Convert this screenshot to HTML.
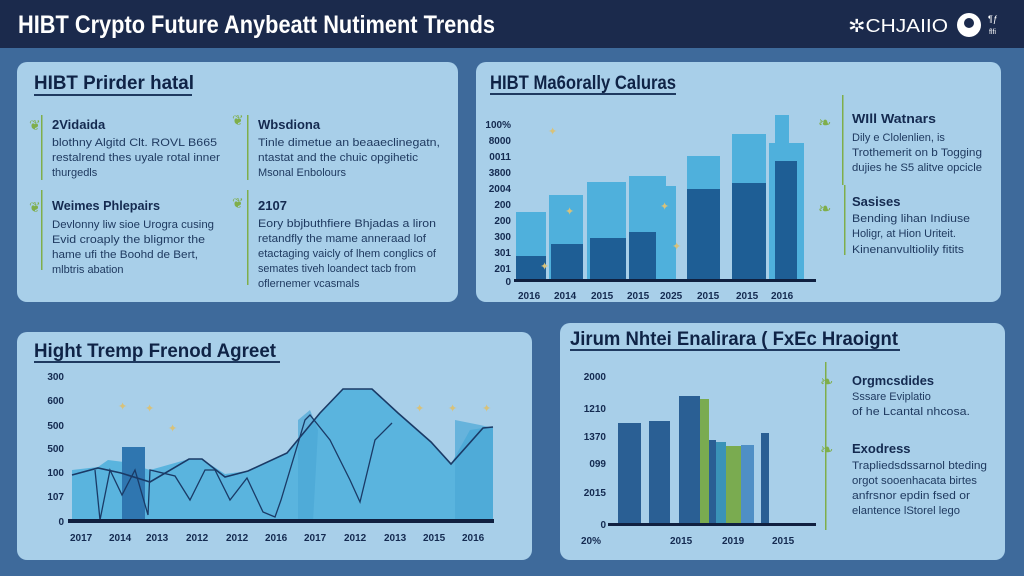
<!DOCTYPE html>
<html><head><meta charset="utf-8"><style>
html,body{margin:0;padding:0;width:1024px;height:576px;overflow:hidden;background:#3e6a9b}
svg{display:block}
text{font-family:"Liberation Sans",sans-serif}
.t{font-weight:bold;fill:#0f2346;font-size:19px}
.h{font-weight:bold;fill:#142a50;font-size:13px}
.b{fill:#1f3a60;font-size:11px}
.ax{fill:#142a50;font-size:10px;font-weight:bold}
</style></head><body>
<svg width="1024" height="576" viewBox="0 0 1024 576">
<rect width="1024" height="576" fill="#3e6a9b"/>
<rect width="1024" height="48" fill="#1b2a4c"/>
<text x="18" y="33" font-size="25" font-weight="bold" fill="#fff" textLength="477" lengthAdjust="spacingAndGlyphs">HIBT Crypto Future Anybeatt Nutiment Trends</text>
<text x="848" y="32" font-size="18" fill="#fff" textLength="100" lengthAdjust="spacingAndGlyphs">✲CHJAIIO</text>
<circle cx="969" cy="25" r="12" fill="#fff"/><circle cx="969" cy="23" r="5" fill="#1b2a4c"/>
<text x="988" y="22" font-size="9" fill="#fff">¶ƒ</text><text x="989" y="34" font-size="7" fill="#fff">ﬂﬁ</text>

<!-- panels -->
<rect x="17" y="62" width="441" height="240" rx="10" fill="#a8cfe9"/>
<rect x="476" y="62" width="525" height="240" rx="10" fill="#a8cfe9"/>
<rect x="17" y="332" width="515" height="228" rx="10" fill="#a8cfe9"/>
<rect x="560" y="323" width="445" height="237" rx="10" fill="#a8cfe9"/>

<!-- panel 1 -->
<text x="34" y="89" class="t" textLength="160" lengthAdjust="spacingAndGlyphs">HIBT Prirder hatal</text>
<rect x="34" y="94" width="158" height="2" fill="#1f3a60"/>
<rect x="41" y="115" width="1.5" height="65" fill="#7fae4a"/><rect x="41" y="190" width="1.5" height="80" fill="#7fae4a"/>
<rect x="247" y="115" width="1.5" height="65" fill="#7fae4a"/><rect x="247" y="190" width="1.5" height="95" fill="#7fae4a"/>
<text x="29" y="130" fill="#7fae4a" font-size="14">❦</text><text x="29" y="212" fill="#7fae4a" font-size="14">❦</text>
<text x="232" y="125" fill="#7fae4a" font-size="14">❦</text><text x="232" y="208" fill="#7fae4a" font-size="14">❦</text>
<text x="52" y="129" class="h">2Vidaida</text>
<text x="52" y="146" class="b" textLength="165" lengthAdjust="spacingAndGlyphs">blothny Algitd Clt. ROVL B665</text>
<text x="52" y="161" class="b" textLength="168" lengthAdjust="spacingAndGlyphs">restalrend thes uyale rotal inner</text>
<text x="52" y="176" class="b">thurgedls</text>
<text x="258" y="129" class="h">Wbsdiona</text>
<text x="258" y="146" class="b" textLength="182" lengthAdjust="spacingAndGlyphs">Tinle dimetue an beaaeclinegatn,</text>
<text x="258" y="161" class="b" textLength="160" lengthAdjust="spacingAndGlyphs">ntastat and the chuic opgihetic</text>
<text x="258" y="176" class="b">Msonal Enbolours</text>
<text x="52" y="210" class="h" textLength="108" lengthAdjust="spacingAndGlyphs">Weimes Phlepairs</text>
<text x="52" y="228" class="b" textLength="162" lengthAdjust="spacingAndGlyphs">Devlonny liw sioe Urogra cusing</text>
<text x="52" y="243" class="b" textLength="153" lengthAdjust="spacingAndGlyphs">Evid croaply the bligmor the</text>
<text x="52" y="258" class="b" textLength="146" lengthAdjust="spacingAndGlyphs">hame ufi the Boohd de Bert,</text>
<text x="52" y="273" class="b">mlbtris abation</text>
<text x="258" y="210" class="h">2107</text>
<text x="258" y="227" class="b" textLength="178" lengthAdjust="spacingAndGlyphs">Eory bbjbuthfiere Bhjadas a liron</text>
<text x="258" y="242" class="b" textLength="168" lengthAdjust="spacingAndGlyphs">retandfly the mame anneraad lof</text>
<text x="258" y="257" class="b" textLength="178" lengthAdjust="spacingAndGlyphs">etactaging vaicly of lhem conglics of</text>
<text x="258" y="272" class="b" textLength="158" lengthAdjust="spacingAndGlyphs">semates tiveh loandect tacb from</text>
<text x="258" y="287" class="b">oflernemer vcasmals</text>

<!-- panel 2 -->
<text x="490" y="89" class="t" textLength="186" lengthAdjust="spacingAndGlyphs">HIBT Ma6orally Caluras</text>
<rect x="490" y="93" width="186" height="2" fill="#1f3a60"/>
<g class="ax" text-anchor="end">
<text x="511" y="128">100%</text><text x="511" y="144">8000</text><text x="511" y="160">0011</text><text x="511" y="176">3800</text><text x="511" y="192">2004</text><text x="511" y="208">200</text><text x="511" y="224">200</text><text x="511" y="240">300</text><text x="511" y="256">301</text><text x="511" y="272">201</text><text x="511" y="285">0</text></g>
<g fill="#4fb0dc">
<rect x="516" y="212" width="30" height="68"/><rect x="549" y="195" width="34" height="85"/><rect x="587" y="182" width="39" height="98"/><rect x="629" y="176" width="37" height="104"/><rect x="666" y="186" width="10" height="94"/><rect x="687" y="156" width="33" height="124"/><rect x="732" y="134" width="34" height="146"/><rect x="769" y="143" width="35" height="137"/><rect x="775" y="115" width="14" height="30"/>
</g>
<g fill="#1e5e95">
<rect x="516" y="256" width="30" height="24"/><rect x="551" y="244" width="32" height="36"/><rect x="590" y="238" width="36" height="42"/><rect x="629" y="232" width="27" height="48"/><rect x="687" y="189" width="33" height="91"/><rect x="732" y="183" width="34" height="97"/><rect x="775" y="161" width="22" height="119"/>
</g>
<rect x="514" y="279" width="302" height="3" fill="#102040"/>
<g fill="#d8c27a" font-size="11"><text x="548" y="135">✦</text><text x="565" y="215">✦</text><text x="660" y="210">✦</text><text x="672" y="250">✦</text><text x="540" y="270">✦</text></g>
<g class="ax" font-size="11"><text x="518" y="299">2016</text><text x="554" y="299">2014</text><text x="591" y="299">2015</text><text x="627" y="299">2015</text><text x="660" y="299">2025</text><text x="697" y="299">2015</text><text x="736" y="299">2015</text><text x="771" y="299">2016</text></g>
<rect x="842" y="95" width="1.5" height="90" fill="#7fae4a"/><rect x="844" y="185" width="1.5" height="70" fill="#7fae4a"/>
<text x="818" y="128" fill="#7fae4a" font-size="16">❧</text><text x="818" y="214" fill="#7fae4a" font-size="16">❧</text>
<text x="852" y="123" class="h" textLength="84" lengthAdjust="spacingAndGlyphs">WIll Watnars</text>
<text x="852" y="141" class="b">Dily e Clolenlien, is</text>
<text x="852" y="156" class="b" textLength="130" lengthAdjust="spacingAndGlyphs">Trothemerit on b Togging</text>
<text x="852" y="171" class="b" textLength="130" lengthAdjust="spacingAndGlyphs">dujies he S5 alitve opcicle</text>
<text x="852" y="206" class="h">Sasises</text>
<text x="852" y="222" class="b" textLength="118" lengthAdjust="spacingAndGlyphs">Bending lihan Indiuse</text>
<text x="852" y="237" class="b">Holigr, at Hion Uriteit.</text>
<text x="852" y="253" class="b" textLength="112" lengthAdjust="spacingAndGlyphs">Kinenanvultiolily fitits</text>

<!-- panel 3 -->
<text x="34" y="357" class="t" textLength="242" lengthAdjust="spacingAndGlyphs">Hight Tremp Frenod Agreet</text>
<rect x="34" y="361" width="246" height="2" fill="#1f3a60"/>
<polygon fill="#5ab4de" points="72,470 98,467 108,460 124,462 150,470 189,459 202,459 225,474 248,471 287,453 320,413 343,389 372,389 398,413 431,442 451,464 470,430 483,428 493,427 493,522 72,522"/>
<polygon fill="#4aa6d6" opacity="0.7" points="298,420 310,410 318,430 313,522 298,522"/>
<polygon fill="#4aa6d6" opacity="0.7" points="455,420 480,425 493,428 493,522 455,522"/>
<rect x="122" y="447" width="23" height="75" fill="#2f76b0"/>
<polyline fill="none" stroke="#1a3a66" stroke-width="1.6" points="72,475 98,468 121,473 150,482 189,459 202,459 225,477 248,471 287,453 320,413 343,389 372,389 398,413 431,442 451,464 483,428 493,427"/>
<polyline fill="none" stroke="#1a3a66" stroke-width="1.3" points="95,470 100,520 110,470 122,495 135,470 148,515 150,470 175,476 190,500 205,470 215,470 230,500 247,478 263,512 275,517 281,500 305,420 310,415 330,440 350,480 360,502 375,440 392,423"/>
<g fill="#d8c27a" font-size="11"><text x="118" y="410">✦</text><text x="145" y="412">✦</text><text x="168" y="432">✦</text><text x="415" y="412">✦</text><text x="448" y="412">✦</text><text x="482" y="412">✦</text></g>
<rect x="68" y="519" width="426" height="4" fill="#102040"/>
<g class="ax" text-anchor="end"><text x="64" y="380">300</text><text x="64" y="404">600</text><text x="64" y="429">500</text><text x="64" y="452">500</text><text x="64" y="476">100</text><text x="64" y="500">107</text><text x="64" y="525">0</text></g>
<g class="ax" font-size="11"><text x="70" y="541">2017</text><text x="109" y="541">2014</text><text x="146" y="541">2013</text><text x="186" y="541">2012</text><text x="226" y="541">2012</text><text x="265" y="541">2016</text><text x="304" y="541">2017</text><text x="344" y="541">2012</text><text x="384" y="541">2013</text><text x="423" y="541">2015</text><text x="462" y="541">2016</text></g>

<!-- panel 4 -->
<text x="570" y="345" class="t" textLength="328" lengthAdjust="spacingAndGlyphs">Jirum Nhtei Enalirara ( FxEc Hraoignt</text>
<rect x="570" y="349" width="330" height="2" fill="#1f3a60"/>
<g fill="#2a5f94">
<rect x="618" y="423" width="23" height="102"/><rect x="649" y="421" width="21" height="104"/><rect x="679" y="396" width="21" height="129"/><rect x="709" y="440" width="7" height="85"/><rect x="761" y="433" width="8" height="92"/>
</g>
<rect x="700" y="399" width="9" height="126" fill="#7aab50"/>
<rect x="716" y="442" width="10" height="83" fill="#3a93b8"/>
<rect x="726" y="446" width="15" height="79" fill="#7aab50"/>
<rect x="741" y="445" width="13" height="80" fill="#4f8fc6"/>
<rect x="608" y="523" width="208" height="3" fill="#102040"/>
<g class="ax" text-anchor="end"><text x="606" y="380">2000</text><text x="606" y="412">1210</text><text x="606" y="440">1370</text><text x="606" y="467">099</text><text x="606" y="496">2015</text><text x="606" y="528">0</text></g>
<g class="ax" font-size="11"><text x="581" y="544">20%</text><text x="670" y="544">2015</text><text x="722" y="544">2019</text><text x="772" y="544">2015</text></g>
<rect x="825" y="362" width="1.5" height="168" fill="#7fae4a"/>
<text x="820" y="387" fill="#7fae4a" font-size="16">❧</text><text x="820" y="455" fill="#7fae4a" font-size="16">❧</text>
<text x="852" y="385" class="h" textLength="82" lengthAdjust="spacingAndGlyphs">Orgmcsdides</text>
<text x="852" y="400" class="b">Sssare Eviplatio</text>
<text x="852" y="415" class="b" textLength="118" lengthAdjust="spacingAndGlyphs">of he Lcantal nhcosa.</text>
<text x="852" y="453" class="h">Exodress</text>
<text x="852" y="469" class="b" textLength="135" lengthAdjust="spacingAndGlyphs">Trapliedsdssarnol bteding</text>
<text x="852" y="484" class="b" textLength="125" lengthAdjust="spacingAndGlyphs">orgot sooenhacata birtes</text>
<text x="852" y="499" class="b" textLength="118" lengthAdjust="spacingAndGlyphs">anfrsnor epdin fsed or</text>
<text x="852" y="514" class="b" textLength="108" lengthAdjust="spacingAndGlyphs">elantence lStorel lego</text>
</svg>
</body></html>
